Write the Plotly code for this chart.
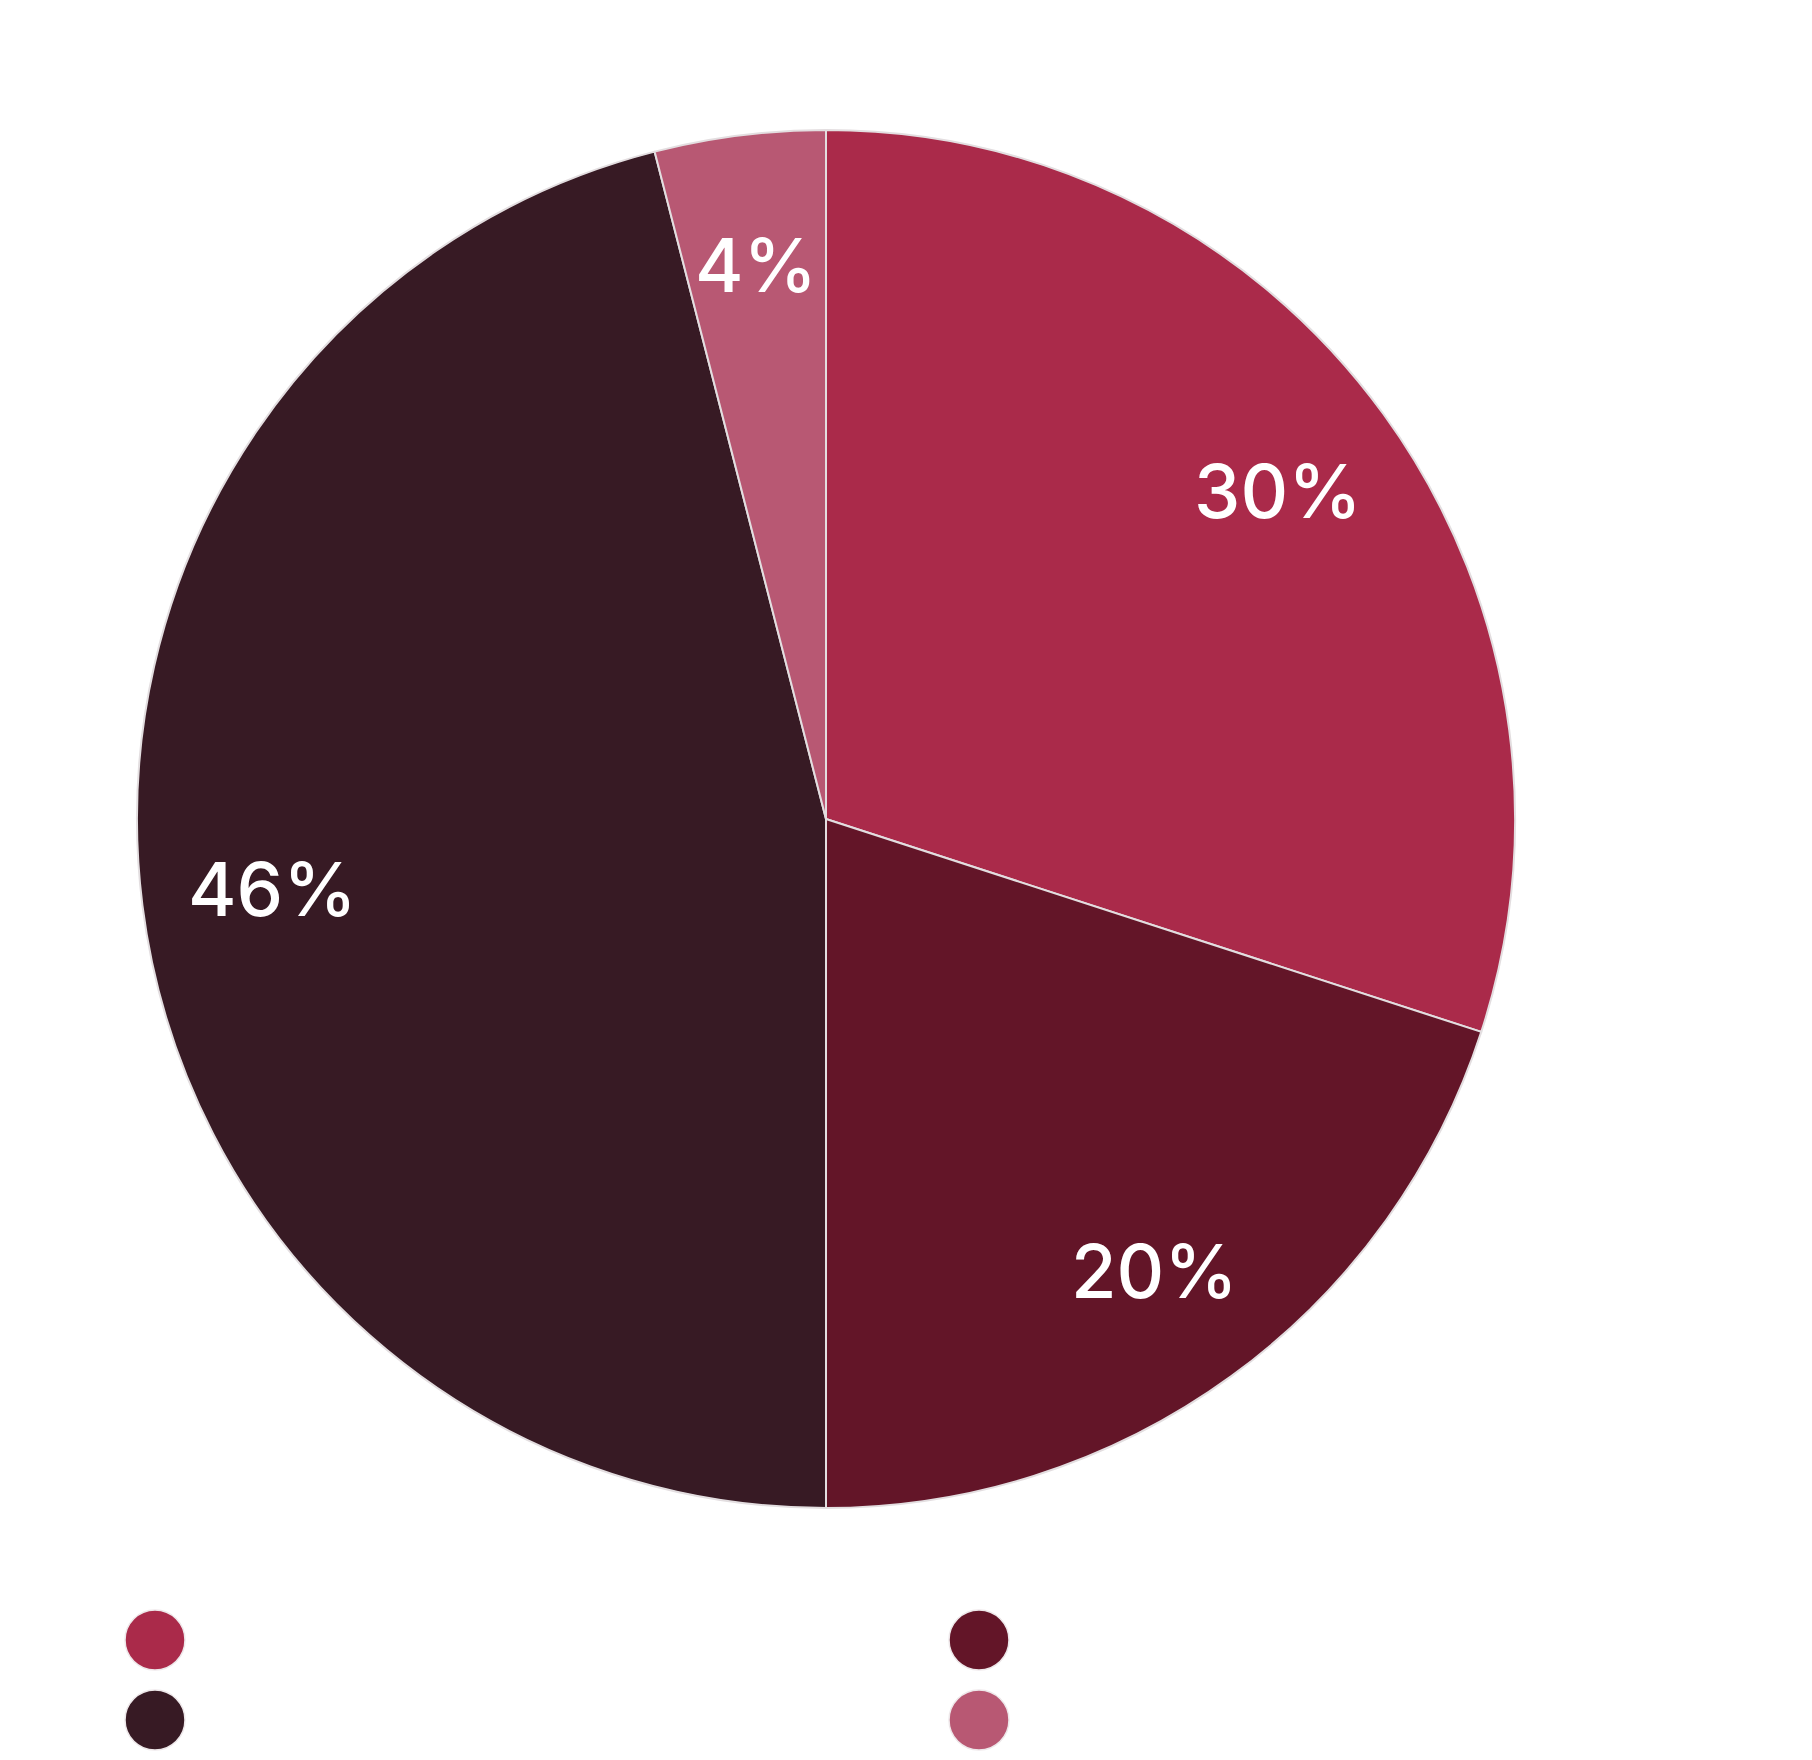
import math
import plotly.graph_objects as go

# ---- data ----
labels = ["Segment A", "Segment B", "Segment C", "Segment D"]
values = [30, 20, 46, 4]
colors = ["#AA2A4A", "#631528", "#371A24", "#B85873"]

# legend layout (2 columns x 2 rows)
legend_cols = [0, 1, 0, 1]
legend_rows = [0, 0, 1, 1]

# figure fits inside the page (body has an 8px margin)
OFF = 8
W, H = 1812 - 2 * OFF, 1760 - 2 * OFF
cx_px, cy_px, R_px = 826 - OFF, 819 - OFF, 689

fig = go.Figure()

fig.add_trace(go.Pie(
    labels=labels,
    values=values,
    sort=False,
    direction="clockwise",
    rotation=0,
    marker=dict(colors=colors, line=dict(color="#E3DEE0", width=2)),
    textinfo="none",
    hoverinfo="label+percent",
    showlegend=False,
    domain=dict(x=[(cx_px - R_px) / W, (cx_px + R_px) / W],
                y=[1 - (cy_px + R_px) / H, 1 - (cy_px - R_px) / H]),
))

# percentage labels placed along each slice bisector
total = sum(values)
cum = 0
for v in values:
    mid = (cum + v / 2) / total * 2 * math.pi
    cum += v
    r = 0.81 * R_px
    x = (cx_px + r * math.sin(mid)) / W
    y = 1 - (cy_px - r * math.cos(mid)) / H
    fig.add_annotation(
        x=x, y=y, xref="paper", yref="paper",
        text=f"{round(v / total * 100)}%",
        showarrow=False,
        font=dict(family="Inter, Roboto, sans-serif", size=74, color="white", weight=500),
        xanchor="center", yanchor="middle",
    )

# custom circular legend markers
lx0, lx1 = 155 - OFF, 979 - OFF
ly0, ly1 = 1640 - OFF, 1720 - OFF
fig.add_trace(go.Scatter(
    x=legend_cols, y=legend_rows,
    mode="markers",
    marker=dict(size=60, color=colors, line=dict(color="#EEE8EA", width=1.5)),
    text=labels, hoverinfo="text",
    cliponaxis=False,
    showlegend=False,
    xaxis="x", yaxis="y",
))

fig.update_layout(
    width=W, height=H,
    margin=dict(l=0, r=0, t=0, b=0),
    paper_bgcolor="white",
    plot_bgcolor="rgba(0,0,0,0)",
    xaxis=dict(domain=[lx0 / W, lx1 / W], range=[0, 1], visible=False, fixedrange=True),
    yaxis=dict(domain=[1 - ly1 / H, 1 - ly0 / H], range=[1, 0], visible=False, fixedrange=True),
    showlegend=False,
)

fig.write_html("out.html")
